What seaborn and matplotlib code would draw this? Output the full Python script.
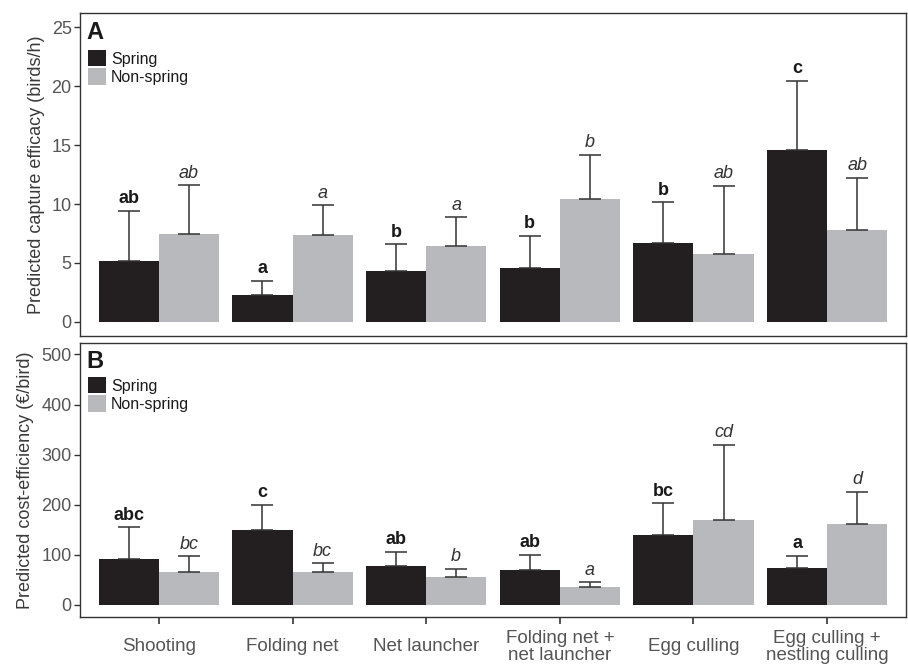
import matplotlib
matplotlib.use("Agg")
import matplotlib.pyplot as plt
import seaborn as sns
import pandas as pd
import numpy as np
from matplotlib.patches import Patch

methods = ["Shooting", "Folding net", "Net launcher", "Folding net +\nnet launcher",
           "Egg culling", "Egg culling +\nnestling culling"]
seasons = ["Spring", "Non-spring"]

# Panel A: capture efficacy (birds/h)
eff_spring = [5.2, 2.3, 4.3, 4.6, 6.7, 14.55]
eff_spring_up = [9.45, 3.5, 6.6, 7.3, 10.15, 20.45]
eff_non = [7.45, 7.4, 6.4, 10.45, 5.75, 7.8]
eff_non_up = [11.6, 9.9, 8.9, 14.2, 11.55, 12.25]
eff_spring_lab = ["ab", "a", "b", "b", "b", "c"]
eff_non_lab = ["ab", "a", "a", "b", "ab", "ab"]

# Panel B: cost-efficiency (EUR/bird)
cost_spring = [92, 149, 77, 69, 139, 74]
cost_spring_up = [155, 200, 106, 100, 203, 98]
cost_non = [66, 66, 56, 36, 170, 162]
cost_non_up = [97, 83, 72, 45, 320, 226]
cost_spring_lab = ["abc", "c", "ab", "ab", "bc", "a"]
cost_non_lab = ["bc", "bc", "b", "a", "cd", "d"]

colors = {"Spring": "#231f20", "Non-spring": "#b8b9bc"}
txt_col = "#3a3a3a"

sns.set_theme(style="white")
plt.rcParams["font.family"] = ["Liberation Sans", "DejaVu Sans"]

fig = plt.figure(figsize=(9.08, 6.64), dpi=100)
axA = fig.add_axes([0.0881, 0.494, 0.9097, 0.4864])
axB = fig.add_axes([0.0881, 0.0708, 0.9097, 0.4127])


def panel(ax, sp, sp_up, ns, ns_up, sp_lab, ns_lab, ylim, yticks, ylabel, tag, leg_y):
    df = pd.DataFrame({
        "method": methods * 2,
        "season": ["Spring"] * 6 + ["Non-spring"] * 6,
        "value": list(sp) + list(ns),
    })
    sns.barplot(data=df, x="method", y="value", hue="season", order=methods,
                hue_order=seasons, palette=colors, width=0.9, errorbar=None,
                saturation=1, ax=ax, legend=False, linewidth=0)
    for cont, ups, labs, style in zip(ax.containers, [sp_up, ns_up],
                                      [sp_lab, ns_lab], ["bold", "italic"]):
        xs = [p.get_x() + p.get_width() / 2 for p in cont]
        hs = [p.get_height() for p in cont]
        err = [np.zeros(len(hs)), np.array(ups) - np.array(hs)]
        ax.errorbar(xs, hs, yerr=err, fmt="none", ecolor="#333333",
                    elinewidth=1.1, capsize=8, capthick=1.1, zorder=3)
        for x, u, lab in zip(xs, ups, labs):
            if style == "bold":
                ax.annotate(lab, (x, u), xytext=(0, 2.5), textcoords="offset points",
                            ha="center", va="bottom", fontsize=13, fontweight="bold",
                            color="#1a1a1a")
            else:
                ax.annotate(lab, (x, u), xytext=(0, 2.5), textcoords="offset points",
                            ha="center", va="bottom", fontsize=13, fontstyle="italic",
                            color="#333333")
    ax.set_xlim(-0.59, 5.59)
    ax.set_ylim(*ylim)
    ax.set_yticks(yticks)
    ax.set_yticklabels([str(t) for t in yticks], fontsize=13, color="#555555")
    ax.set_ylabel(ylabel, fontsize=13, color=txt_col, labelpad=5)
    ax.set_xlabel("")
    for s in ax.spines.values():
        s.set_color("#333333")
        s.set_linewidth(1.0)
    ax.tick_params(axis="y", which="both", left=True, length=4, width=1,
                   color="#333333", pad=2)
    ax.text(0.008, 0.975, tag, transform=ax.transAxes, fontsize=17,
            fontweight="bold", ha="left", va="top", color="#1a1a1a")
    handles = [Patch(facecolor=colors[s], edgecolor="none") for s in seasons]
    ax.legend(handles, seasons, loc="upper left", bbox_to_anchor=(0.0, leg_y),
              frameon=False, fontsize=11.5, handlelength=1.1, handleheight=1.2,
              handletextpad=0.35, labelspacing=0.1, borderaxespad=0.1,
              labelcolor="#1a1a1a")


panel(axA, eff_spring, eff_spring_up, eff_non, eff_non_up, eff_spring_lab,
      eff_non_lab, (-1.19, 26.2), [0, 5, 10, 15, 20, 25],
      "Predicted capture efficacy (birds/h)", "A", 0.91)
axA.set_xticks([])

panel(axB, cost_spring, cost_spring_up, cost_non, cost_non_up, cost_spring_lab,
      cost_non_lab, (-24, 523), [0, 100, 200, 300, 400, 500],
      "Predicted cost-efficiency (€/bird)", "B", 0.905)
axB.set_xticks(range(6))
axB.set_xticklabels(methods, fontsize=13.5, color="#555555", linespacing=1.05,
                    va="center")
axB.tick_params(axis="x", bottom=True, length=5, width=1.2, color="#333333", pad=16.5)

fig.savefig("out.png", dpi=100)
